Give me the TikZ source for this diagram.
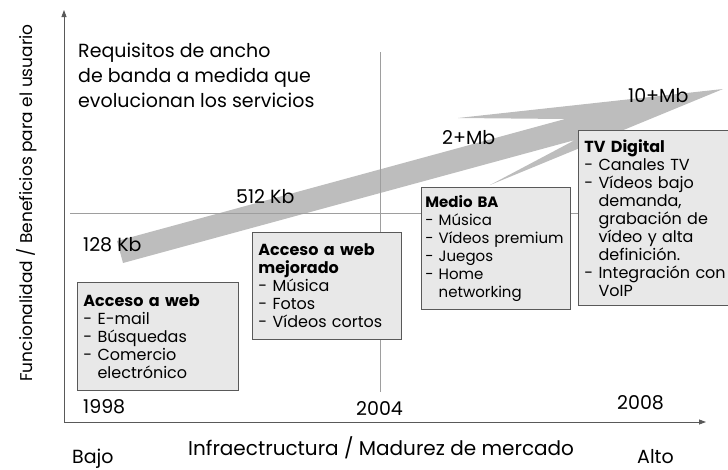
\documentclass[tikz,border=0pt]{standalone}
\usepackage{fontspec}
\setmainfont{Poppins}
\usetikzlibrary{arrows.meta}
\hyphenpenalty=10000

\definecolor{gris}{gray}{0.35}
\definecolor{grisclaro}{gray}{0.62}
\definecolor{banda}{gray}{0.74}
\definecolor{fondocaja}{gray}{0.91}

\begin{document}
\begin{tikzpicture}[x=1pt,y=-1pt,
    caja/.style={draw=gris,fill=fondocaja,line width=0.8pt,anchor=north west,align=left,
      inner xsep=6pt,inner ysep=0pt,font=\fontsize{16}{18}\selectfont},
    texto/.style={anchor=base west,inner sep=0pt,font=\fontsize{19}{25}\selectfont},
    eje/.style={gris,line width=0.8pt,-{Triangle[length=7pt,width=5pt]}},
    guia/.style={grisclaro,line width=0.8pt}]
  \useasboundingbox (0,0) rectangle (728,469);
  \clip (0,0) rectangle (728,469);

  % banda de ancho de banda
  \fill[banda] (123,263) -- (575,140) -- (490,185) -- (723,89)
    -- (458,118) -- (565,119) -- (117,241) -- cycle;

  % guias
  \coordinate (h1) at (70,213);
  \coordinate (h2) at (728,213);
  \coordinate (v1) at (380,52);
  \coordinate (v2) at (380,392);
  \draw[guia] (h1) -- (h2);
  \draw[guia] (v1) -- (v2);

  % ejes
  \coordinate (origen) at (64,422);
  \coordinate (ytop) at (64,10);
  \coordinate (xfin) at (706,422);
  \draw[eje] (origen) -- (ytop);
  \draw[eje] (origen) -- (xfin);

  % cajas
  \node[caja,minimum width=161pt,minimum height=108pt,text width=149pt] (web) at (77,282)
    {\textbf{Acceso a web}\\- E-mail\\- Búsquedas\\- Comercio\\\phantom{- }electrónico};
  \node[caja,minimum width=149pt,minimum height=107pt,text width=137pt] (webmej) at (252,232)
    {\textbf{Acceso a web}\\\textbf{mejorado}\\- Música\\- Fotos\\\mbox{- Vídeos cortos}};
  \node[caja,inner xsep=4pt,minimum width=149pt,minimum height=122pt,text width=141pt,
    font=\fontsize{15}{18}\selectfont] (medio) at (421,187)
    {\textbf{Medio BA}\\- Música\\\mbox{- Vídeos premium}\\- Juegos\\- Home\\\phantom{- }networking};
  \node[caja,minimum width=170pt,minimum height=175pt,text width=158pt] (tv) at (578,130)
    {\textbf{TV Digital}\\- Canales~TV\\- Vídeos bajo\\\phantom{- }demanda,\\\phantom{- }grabación de\\\phantom{- }vídeo y alta\\\phantom{- }definición.\\\mbox{- Integración con}\\\phantom{- }VoIP};

  % textos
  \node[texto,anchor=north west,align=left] (req) at (78,43)
    {Requisitos de ancho\\de banda a medida que\\evolucionan los servicios};
  \node[texto] (k128) at (83,251) {128 Kb};
  \node[texto] (k512) at (236,203) {512 Kb};
  \node[texto] (m2) at (442,144) {2+Mb};
  \node[texto] (m10) at (628,102) {10+Mb};
  \node[texto] (a1998) at (83,413) {1998};
  \node[texto] (a2004) at (356,415) {2004};
  \node[texto] (a2008) at (617,409) {2008};
  \node[texto,font=\fontsize{20}{24}\selectfont] (infra) at (188,455) {Infraectructura / Madurez de mercado};
  \node[texto] (bajo) at (72,463) {Bajo};
  \node[texto] (alto) at (637,463) {Alto};
  \node[texto,font=\fontsize{17}{20}\selectfont,rotate=90,anchor=base] (func) at (32,203) {Funcionalidad / Beneficios para el usuario};
\end{tikzpicture}
\end{document}
